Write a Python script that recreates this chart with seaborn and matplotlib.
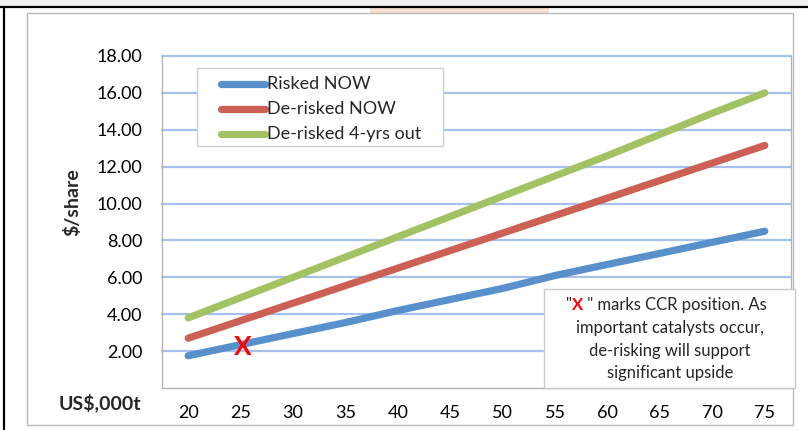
import matplotlib
matplotlib.use("Agg")
import matplotlib.pyplot as plt
from matplotlib.patches import Rectangle
from matplotlib.lines import Line2D
import pandas as pd
import seaborn as sns

# Copper price scenarios (US$,000 per tonne) and value per share
copper_price = [20, 25, 30, 35, 40, 45, 50, 55, 60, 65, 70, 75]
risked_now = [1.75, 2.35, 2.95, 3.55, 4.2, 4.8, 5.4, 6.1, 6.7, 7.3, 7.9, 8.5]
derisked_now = [2.7, 3.65, 4.6, 5.55, 6.5, 7.45, 8.4, 9.35, 10.3, 11.25, 12.2, 13.15]
derisked_4yrs = [3.8, 4.9, 6.0, 7.1, 8.2, 9.3, 10.4, 11.5, 12.6, 13.75, 14.9, 16.0]
series_names = ["Risked NOW", "De-risked NOW", "De-risked 4-yrs out"]
series_colors = ["#5790CA", "#CD6055", "#A4C263"]
y_ticks = [2, 4, 6, 8, 10, 12, 14, 16, 18]
ccr_price, ccr_value = 25, 2.2

sns.set_theme(style="white")
plt.rcParams["font.family"] = ["Lato", "DejaVu Sans"]

W, H = 808, 430
fig = plt.figure(figsize=(W / 100, H / 100), dpi=100)


def fx(x):
    return x / W


def fy(y):
    return 1 - y / H


# page decorations: grey band, black frame edges, outer chart border
fig.patches.append(Rectangle((0, fy(7)), 1, 7 / H, transform=fig.transFigure,
                             facecolor="#efefef", edgecolor="none", zorder=0))
fig.patches.append(Rectangle((fx(370), fy(13)), fx(549) - fx(370), 6 / H,
                             transform=fig.transFigure, facecolor="#f8e0d2",
                             edgecolor="none", zorder=1))
fig.lines.append(Line2D([0, 1], [fy(7), fy(7)], transform=fig.transFigure,
                        color="black", lw=1.6, zorder=2))
fig.lines.append(Line2D([fx(3.5), fx(3.5)], [fy(7), 0], transform=fig.transFigure,
                        color="black", lw=1.6, zorder=2))
fig.patches.append(Rectangle((fx(27), fy(425)), fx(793) - fx(27), (425 - 13) / H,
                             transform=fig.transFigure, facecolor="white",
                             edgecolor="#b9b9b9", lw=1.0, zorder=1))

ax = fig.add_axes([fx(162), fy(388), fx(791) - fx(162), (388 - 56) / H])
ax.set_zorder(3)

pos = list(range(len(copper_price)))
df = pd.DataFrame({
    "pos": pos * 3,
    "value": risked_now + derisked_now + derisked_4yrs,
    "series": sum([[n] * len(pos) for n in series_names], []),
})
sns.lineplot(data=df, x="pos", y="value", hue="series", hue_order=series_names,
             palette=series_colors, linewidth=5.2, ax=ax, legend=False,
             solid_capstyle="round", zorder=4)

ax.set_xlim(-0.5, len(pos) - 0.5)
ax.set_ylim(0, 18)
ax.set_xticks(pos)
ax.set_xticklabels([str(v) for v in copper_price])
ax.set_yticks(y_ticks)
ax.set_yticklabels([f"{v:.2f}" for v in y_ticks])
ax.tick_params(axis="both", length=0, labelsize=13, colors="black")
ax.tick_params(axis="x", pad=12)
ax.tick_params(axis="y", pad=14)
ax.set_xlabel("")
ax.set_ylabel("")
for v in y_ticks:
    ax.axhline(v, color="#a8c0ee", lw=1.6, zorder=1, clip_on=False)
for side in ["left", "right", "bottom"]:
    ax.spines[side].set_color("#b3b3b3")
    ax.spines[side].set_linewidth(1.0)
ax.spines["top"].set_visible(False)

# CCR position marker
ax.text(copper_price.index(ccr_price) + 0.05, ccr_value, "X", color="red",
        fontsize=19, fontweight="bold", ha="center", va="center", zorder=6)

# axis titles
fig.text(fx(72), fy(202), "$/share", rotation=90, ha="center", va="center",
         fontsize=14, fontweight="bold")
fig.text(fx(100), fy(403), "US$,000t", ha="center", va="center",
         fontsize=14, fontweight="bold")

# legend
fig.patches.append(Rectangle((fx(197), fy(146)), fx(443) - fx(197), (146 - 68) / H,
                             transform=fig.transFigure, facecolor="white",
                             edgecolor="#cfcfcf", lw=1.0, zorder=5))
for i, (name, col) in enumerate(zip(series_names, series_colors)):
    yy = [84, 109, 134][i]
    fig.lines.append(Line2D([fx(221), fx(265)], [fy(yy), fy(yy)],
                            transform=fig.transFigure, color=col, lw=5.2,
                            solid_capstyle="round", zorder=6))
    fig.text(fx(267), fy(yy), name, ha="left", va="center", fontsize=13, zorder=6)

# note box
fig.patches.append(Rectangle((fx(544), fy(388)), fx(795) - fx(544), (388 - 289) / H,
                             transform=fig.transFigure, facecolor="white",
                             edgecolor="#c9c9c9", lw=1.0, zorder=5))
fig.canvas.draw()
r = fig.canvas.get_renderer()
t1 = fig.text(fx(566), fy(305), '"', ha="left", va="center", fontsize=12, zorder=6)
bb1 = t1.get_window_extent(r)
t2 = fig.text(bb1.x1 / fig.bbox.width, fy(305), "X", ha="left", va="center",
              fontsize=12, fontweight="bold", color="red", zorder=6)
bb2 = t2.get_window_extent(r)
fig.text(bb2.x1 / fig.bbox.width, fy(305), ' " marks CCR position. As',
         ha="left", va="center", fontsize=12, zorder=6)
for yy, line in zip([328, 351, 373], ["important catalysts occur,",
                                       "de-risking will support",
                                       "significant upside"]):
    fig.text(fx(670), fy(yy), line, ha="center", va="center", fontsize=12, zorder=6)

fig.savefig("out.png", dpi=100)
